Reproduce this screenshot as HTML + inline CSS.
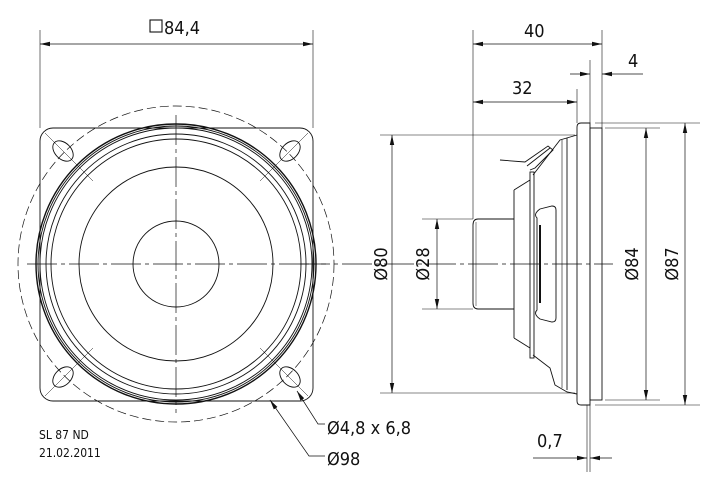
<!DOCTYPE html>
<html><head><meta charset="utf-8"><style>
html,body{margin:0;padding:0;background:#fff;}
svg{display:block;}
text{font-family:"DejaVu Sans Condensed","Liberation Sans",sans-serif;fill:#111;}
</style></head><body>
<svg width="715" height="479" viewBox="0 0 715 479" xmlns="http://www.w3.org/2000/svg">
<defs>
<marker id="a" viewBox="0 0 10 6" refX="10" refY="3" markerWidth="10" markerHeight="6" orient="auto-start-reverse" markerUnits="userSpaceOnUse"><path d="M0,0.8 L10,3 L0,5.2z" fill="#111"/></marker>
</defs>
<g stroke="#111" fill="none" stroke-width="0.9">
<rect x="40" y="128" width="273" height="273" rx="13"/>
<circle cx="176" cy="264" r="158" stroke-dasharray="9,4" stroke-width="0.7"/>
<circle cx="176" cy="264" r="140" stroke-width="1.4"/>
<circle cx="176" cy="264" r="138"/>
<circle cx="176" cy="264" r="136"/>
<circle cx="176" cy="264" r="130"/>
<circle cx="176" cy="264" r="125"/>
<circle cx="176" cy="264" r="97"/>
<circle cx="176" cy="264" r="43"/>
<line x1="27" y1="264" x2="326" y2="264" stroke-dasharray="30,4,4,4" stroke-width="0.7"/>
<line x1="176" y1="115" x2="176" y2="413" stroke-dasharray="30,4,4,4" stroke-width="0.7"/>
<g stroke-width="0.5">
<line x1="45" y1="133" x2="93" y2="181"/>
<line x1="308" y1="133" x2="260" y2="181"/>
<line x1="45" y1="396" x2="93" y2="348"/>
<line x1="308" y1="396" x2="260" y2="348"/>
</g>
<ellipse cx="63" cy="151" rx="12" ry="8" transform="rotate(45 63 151)"/>
<ellipse cx="290" cy="151" rx="12" ry="8" transform="rotate(-45 290 151)"/>
<ellipse cx="63" cy="377" rx="12" ry="8" transform="rotate(-45 63 377)"/>
<ellipse cx="290" cy="377" rx="12" ry="8" transform="rotate(45 290 377)"/>
<line x1="40" y1="30" x2="40" y2="128" stroke-width="0.6"/>
<line x1="313" y1="30" x2="313" y2="128" stroke-width="0.6"/>
<line x1="40" y1="44" x2="313" y2="44" marker-start="url(#a)" marker-end="url(#a)" stroke-width="0.7"/>
<rect x="150" y="20" width="12" height="12" stroke-width="1.1"/>
<polyline points="297,391 318,424 325,424" marker-start="url(#a)" stroke-width="0.7"/>
<polyline points="270,400 309,456 325,456" marker-start="url(#a)" stroke-width="0.7"/>

<line x1="300" y1="264" x2="613" y2="264" stroke-dasharray="30,4,4,4" stroke-width="0.7"/>
<path d="M581,123 H590 V405 H581 Q577,405 577,401 V127 Q577,123 581,123Z"/>
<rect x="590" y="128" width="12" height="272"/>
<line x1="590" y1="228" x2="590" y2="300" stroke-width="0.5"/>
<line x1="567" y1="138" x2="567" y2="390"/>
<line x1="562" y1="140" x2="562" y2="388" stroke-width="0.6"/>
<path d="M514,190 L530,180 M533,175 L560,140 L577,135 M514,338 L530,348 M533,355 L550,368 L555,385 L567,392 L577,394"/>
<line x1="514" y1="190" x2="514" y2="338"/>
<rect x="530" y="172" width="4" height="186" stroke-width="0.9"/>
<path d="M537,218 Q533,214 540,209 L552,206 Q556,206 556,210 V318 Q556,322 552,322 L540,319 Q533,314 537,310Z"/>
<line x1="540" y1="225" x2="540" y2="303" stroke-width="2"/>
<path d="M500,160 L525,162 L548,146 L553,150 L535,168 L530,170 M527,166 L550,148"/>
<path d="M514,219 H478 Q473,219 473,225 V303 Q473,309 478,309 H514"/>
<line x1="476" y1="222" x2="476" y2="306" stroke-width="0.5"/>
<line x1="473" y1="30" x2="473" y2="219" stroke-width="0.6"/>
<line x1="602" y1="30" x2="602" y2="128" stroke-width="0.6"/>
<line x1="590" y1="60" x2="590" y2="123" stroke-width="0.6"/>
<line x1="577" y1="89" x2="577" y2="123" stroke-width="0.6"/>
<line x1="473" y1="44" x2="602" y2="44" marker-start="url(#a)" marker-end="url(#a)" stroke-width="0.7"/>
<line x1="473" y1="102" x2="577" y2="102" marker-start="url(#a)" marker-end="url(#a)" stroke-width="0.7"/>
<line x1="570" y1="74" x2="590" y2="74" marker-end="url(#a)" stroke-width="0.7"/>
<line x1="643" y1="74" x2="602" y2="74" marker-end="url(#a)" stroke-width="0.7"/>
<line x1="380" y1="135" x2="575" y2="135" stroke-width="0.6"/>
<line x1="380" y1="393" x2="575" y2="393" stroke-width="0.6"/>
<line x1="392" y1="135" x2="392" y2="393" marker-start="url(#a)" marker-end="url(#a)" stroke-width="0.7"/>
<line x1="422" y1="219" x2="473" y2="219" stroke-width="0.6"/>
<line x1="422" y1="309" x2="473" y2="309" stroke-width="0.6"/>
<line x1="437" y1="219" x2="437" y2="309" marker-start="url(#a)" marker-end="url(#a)" stroke-width="0.7"/>
<line x1="605" y1="128" x2="660" y2="128" stroke-width="0.6"/>
<line x1="605" y1="400" x2="660" y2="400" stroke-width="0.6"/>
<line x1="595" y1="123" x2="700" y2="123" stroke-width="0.6"/>
<line x1="595" y1="405" x2="700" y2="405" stroke-width="0.6"/>
<line x1="646" y1="128" x2="646" y2="400" marker-start="url(#a)" marker-end="url(#a)" stroke-width="0.7"/>
<line x1="685" y1="123" x2="685" y2="405" marker-start="url(#a)" marker-end="url(#a)" stroke-width="0.7"/>
<line x1="590" y1="405" x2="590" y2="472" stroke-width="0.6"/>
<line x1="587" y1="405" x2="587" y2="472" stroke-width="0.6"/>
<line x1="533" y1="458" x2="587" y2="458" marker-end="url(#a)" stroke-width="0.7"/>
<line x1="612" y1="458" x2="590" y2="458" marker-end="url(#a)" stroke-width="0.7"/>
</g>
<g font-size="18">
<text x="164" y="34">84,4</text>
<text x="524" y="37">40</text>
<text x="512" y="94">32</text>
<text x="628" y="67">4</text>
<text x="537" y="447">0,7</text>
<text x="327" y="434">Ø4,8 x 6,8</text>
<text x="327" y="465">Ø98</text>
<text transform="translate(387,264) rotate(-90)" text-anchor="middle">Ø80</text>
<text transform="translate(429,264) rotate(-90)" text-anchor="middle">Ø28</text>
<text transform="translate(638,264) rotate(-90)" text-anchor="middle">Ø84</text>
<text transform="translate(678,264) rotate(-90)" text-anchor="middle">Ø87</text>
</g>
<g font-size="12">
<text x="39" y="439">SL 87 ND</text>
<text x="39" y="457">21.02.2011</text>
</g>
</svg>
</body></html>
